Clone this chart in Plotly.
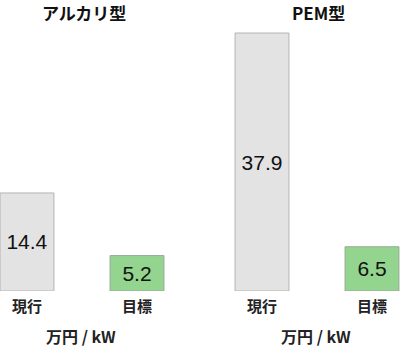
import plotly.graph_objects as go

categories = ["現行", "目標"]
alkaline_values = [14.4, 5.2]
pem_values = [37.9, 6.5]
panel_titles = ["アルカリ型", "PEM型"]
unit_label = "万円 / kW"

bar_fill = ["#e3e3e3", "#93d48e"]
bar_edge = ["#b4b4b4", "#9aa89a"]

JP = "Noto Sans CJK JP"
NUM = "Liberation Sans, Arial, sans-serif"

fig = go.Figure()

for vals, xa in [(alkaline_values, "x"), (pem_values, "x2")]:
    fig.add_trace(go.Bar(
        x=categories, y=vals, xaxis=xa, yaxis="y",
        width=0.49,
        marker=dict(color=bar_fill, line=dict(color=bar_edge, width=1)),
        text=[f"{v:.1f}" for v in vals],
        textposition="inside", insidetextanchor="middle",
        constraintext="none",
        textfont=dict(family=NUM, size=21, color="#111111"),
        hoverinfo="skip", showlegend=False,
    ))

ax_common = dict(
    type="category", showgrid=False, zeroline=False, showline=False,
    ticks="", ticklabelstandoff=5,
    tickfont=dict(family=JP, size=15, color="#222222", weight=600),
    fixedrange=True,
)
fig.update_layout(
    width=400, height=347,
    margin=dict(l=0, r=0, t=0, b=56),
    paper_bgcolor="white", plot_bgcolor="white",
    xaxis=dict(domain=[0, 0.5], range=[-0.2455, 1.5727], **ax_common),
    xaxis2=dict(domain=[0.5, 1], range=[-0.5636, 1.2545], anchor="y", **ax_common),
    yaxis=dict(range=[0, 42.75], visible=False, fixedrange=True),
    bargap=0.5,
)

title_x = [0.21, 0.795]
for t, xp in zip(panel_titles, title_x):
    fig.add_annotation(
        text=t, xref="paper", yref="paper", x=xp, y=1, yshift=-12,
        xanchor="center", yanchor="middle", showarrow=False,
        font=dict(family=JP, size=17, color="#111111", weight=700),
    )

unit_x = [0.2035, 0.79]
for xp in unit_x:
    fig.add_annotation(
        text=unit_label, xref="paper", yref="paper", x=xp, y=0, yshift=-45,
        xanchor="center", yanchor="middle", showarrow=False,
        font=dict(family=JP, size=16, color="#222222", weight=600),
    )

fig.write_html("out.html")
